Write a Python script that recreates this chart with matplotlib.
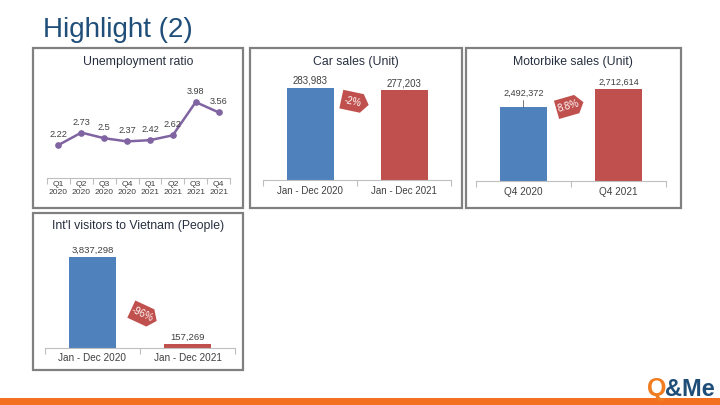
import matplotlib
matplotlib.use('Agg')
import matplotlib.pyplot as plt
from matplotlib.patches import Rectangle, Polygon
import numpy as np

plt.rcParams['font.family'] = ['Liberation Sans', 'DejaVu Sans']

# ---------------- data ----------------
page_title = 'Highlight (2)'

unemp_title = 'Unemployment ratio'
unemp_labels = ['Q1\n2020', 'Q2\n2020', 'Q3\n2020', 'Q4\n2020',
                'Q1\n2021', 'Q2\n2021', 'Q3\n2021', 'Q4\n2021']
unemp_values = [2.22, 2.73, 2.5, 2.37, 2.42, 2.62, 3.98, 3.56]

car_title = 'Car sales (Unit)'
car_labels = ['Jan - Dec 2020', 'Jan - Dec 2021']
car_values = [283983, 277203]
car_change = '-2%'

moto_title = 'Motorbike sales (Unit)'
moto_labels = ['Q4 2020', 'Q4 2021']
moto_values = [2492372, 2712614]
moto_change = '8.8%'

visit_title = "Int'l visitors to Vietnam (People)"
visit_labels = ['Jan - Dec 2020', 'Jan - Dec 2021']
visit_values = [3837298, 157269]
visit_change = '-96%'

# ---------------- style ----------------
BLUE = '#4F81BD'
RED = '#C0504D'
PURPLE = '#8064A2'
TXT = '#404040'
TITLE = '#262F3F'
AXIS = '#BFBFBF'
BORDER = '#808080'

W, H = 720, 405
fig = plt.figure(figsize=(7.2, 4.05), dpi=100)


def box(x0, y0, x1, y1):
    return [x0 / W, 1 - y1 / H, (x1 - x0) / W, (y1 - y0) / H]


def panel_border(x0, y0, x1, y1):
    fig.patches.append(Rectangle((x0 / W, 1 - y1 / H), (x1 - x0) / W, (y1 - y0) / H,
                                 transform=fig.transFigure, fill=False,
                                 edgecolor=BORDER, lw=1.6))


def panel_title(cx, cy, text):
    fig.text(cx / W, 1 - cy / H, text, ha='center', va='center',
             fontsize=8.8, color=TITLE)


def tag(cx, cy, angle, text):
    w, h, p = 21, 19, 7
    pts = np.array([[-w / 2 - p / 2, -h / 2], [w / 2 - p / 2, -h / 2],
                    [w / 2 + p / 2, 0], [w / 2 - p / 2, h / 2],
                    [-w / 2 - p / 2, h / 2]], dtype=float)
    a = np.deg2rad(angle)
    R = np.array([[np.cos(a), -np.sin(a)], [np.sin(a), np.cos(a)]])
    rp = pts @ R.T
    xs = (cx + rp[:, 0]) / W
    ys = (H - cy + rp[:, 1]) / H
    fig.patches.append(Polygon(np.c_[xs, ys], closed=True,
                               transform=fig.transFigure,
                               facecolor=RED, edgecolor='none'))
    off = np.array([-2.0, 0]) @ R.T
    fig.text((cx + off[0]) / W, (H - cy + off[1]) / H, text, rotation=angle,
             rotation_mode='anchor', ha='center', va='center',
             color='white', fontsize=7)


def style_cat_axis(ax, n, labels, fs, pad):
    for s in ['top', 'right', 'left']:
        ax.spines[s].set_visible(False)
    ax.spines['bottom'].set_color(AXIS)
    ax.spines['bottom'].set_linewidth(0.8)
    ax.set_yticks([])
    ax.set_xlim(-0.5, n - 0.5)
    ax.set_xticks(np.arange(n))
    ax.set_xticklabels(labels, fontsize=fs, color=TXT, linespacing=1.2)
    ax.tick_params(axis='x', which='major', length=0, pad=pad)
    ax.set_xticks(np.arange(n + 1) - 0.5, minor=True)
    ax.tick_params(axis='x', which='minor', length=4, color=AXIS, width=0.8,
                   direction='out')
    ax.patch.set_alpha(0)


def bar_panel(axbox, labels, values, ylim, label_fs, cat_fs, pad,
              leader_first=False):
    ax = fig.add_axes(box(*axbox))
    x = np.arange(len(values))
    ax.bar(x, values, width=0.5, color=[BLUE, RED])
    ax.set_ylim(*ylim)
    style_cat_axis(ax, len(values), labels, cat_fs, pad)
    for i, (xi, v) in enumerate(zip(x, values)):
        if leader_first and i == 0:
            ax.annotate(f'{v:,}', (xi, v), xytext=(0, 7),
                        textcoords='offset points', ha='center', va='bottom',
                        fontsize=label_fs, color=TXT,
                        arrowprops=dict(arrowstyle='-', color=TXT, lw=0.5,
                                        shrinkA=0, shrinkB=0))
        else:
            ax.annotate(f'{v:,}', (xi, v), xytext=(0, 1.5),
                        textcoords='offset points', ha='center', va='bottom',
                        fontsize=label_fs, color=TXT)
    return ax


# ---------------- page title ----------------
fig.text(43 / W, 1 - 37 / H, page_title, ha='left', va='baseline',
         fontsize=20, color='#1F4E79')

# ---------------- panel 1: unemployment line ----------------
panel_border(33, 48, 243, 208)
panel_title(138, 62, unemp_title)
ax1 = fig.add_axes(box(47, 85, 230, 178))
x1 = np.arange(len(unemp_values))
ax1.plot(x1, unemp_values, color=PURPLE, lw=1.8, marker='o', ms=3.8)
ax1.set_ylim(0.87, 4.68)
style_cat_axis(ax1, len(unemp_values), unemp_labels, 6.1, 2.2)
for xi, v in zip(x1, unemp_values):
    ax1.annotate(f'{v:g}', (xi, v), xytext=(0, 7.5), textcoords='offset points',
                 ha='center', va='center', fontsize=6.6, color=TXT)

# ---------------- panel 2: car sales ----------------
panel_border(250, 48, 462, 208)
panel_title(356, 62, car_title)
bar_panel((263, 80, 451, 180), car_labels, car_values,
          (0, car_values[0] * 1.087), 7.0, 7.0, 4.2)
tag(355, 102, -12, car_change)

# ---------------- panel 3: motorbike sales ----------------
panel_border(466, 48, 681, 208)
panel_title(573, 62, moto_title)
bar_panel((476, 80, 666, 181), moto_labels, moto_values,
          (1611405, 2820375), 6.6, 7.2, 4.2, leader_first=True)
tag(570, 106, 16, moto_change)

# ---------------- panel 4: visitors ----------------
panel_border(33, 213, 243, 370)
panel_title(138, 226, visit_title)
bar_panel((45, 250, 235, 348), visit_labels, visit_values,
          (0, visit_values[0] * 97 / 90), 6.8, 7.2, 3.8)
tag(144, 315, -25, visit_change)

# ---------------- footer ----------------
fig.patches.append(Rectangle((0, 0), 1, 7 / H, transform=fig.transFigure,
                             facecolor='#F37021', edgecolor='none'))
fig.text(647 / W, 1 - 396 / H, 'Q', ha='left', va='baseline', fontsize=18,
         fontweight='bold', color='#F07D21')
fig.text(665 / W, 1 - 396 / H, '&Me', ha='left', va='baseline', fontsize=17,
         fontweight='bold', color='#1F4E79')

fig.savefig('out.png', dpi=100)
